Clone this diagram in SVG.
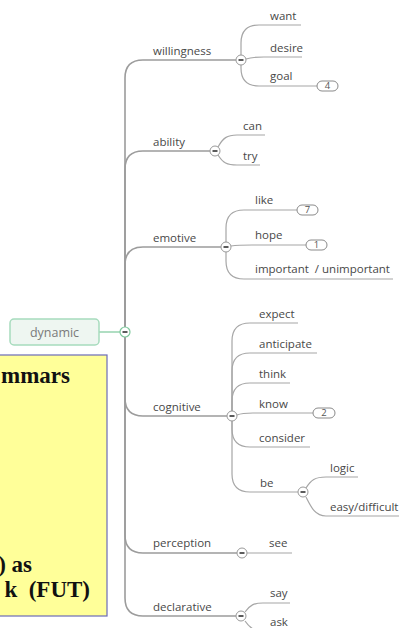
<svg xmlns="http://www.w3.org/2000/svg" width="399" height="628" viewBox="0 0 399 628">
<style>
.t{font-family:"Open Sans","DejaVu Sans",sans-serif;font-size:11.5px;fill:#484848}
.main{fill:none;stroke:#9c9c9c;stroke-width:1.6}
.sub{fill:none;stroke:#a6a6a6;stroke-width:1.2}
.col{fill:#fff;stroke:#999;stroke-width:1}
.minus{stroke:#333;stroke-width:1.6}
.badge{fill:#fff;stroke:#8a8a8a;stroke-width:1}
.bt{font-family:"Open Sans","DejaVu Sans",sans-serif;font-size:9.5px;fill:#555;text-anchor:middle}
.note{font-family:"Liberation Serif","Times New Roman",serif;font-weight:bold;font-size:23px;fill:#111;text-anchor:end}
</style>
<defs>
<g id="mn"><circle r="5" class="col"/><line x1="-2.5" y1="0" x2="2.5" y2="0" class="minus"/></g>
</defs>
<rect width="399" height="628" fill="#fff"/>

<g id="connectors">
<line x1="99" y1="332" x2="120" y2="332" stroke="#8fd0aa" stroke-width="1.4"/>
<path class="main" d="M125,327 V78 Q125,60 143,60 H236"/>
<path class="main" d="M125,327 V169 Q125,151 143,151 H210"/>
<path class="main" d="M125,327 V265 Q125,247 143,247 H221"/>
<path class="main" d="M125,337 V398 Q125,416 143,416 H227"/>
<path class="main" d="M125,337 V535 Q125,553 143,553 H237"/>
<path class="main" d="M125,337 V598 Q125,616 143,616 H236"/>
<path class="sub" d="M241,55 V43 Q241,25 259,25 H301"/>
<path class="sub" d="M246,59 C252,57 256,57 264,57 H302"/>
<path class="sub" d="M241,65 V68 Q241,86 259,86 H317"/>
<path class="sub" d="M218,147 C223,138 227,135 237,135 H265"/>
<path class="sub" d="M218,155 C223,163 227,165 237,165 H260"/>
<path class="sub" d="M226,242 V228 Q226,210 244,210 H297"/>
<path class="sub" d="M231,246 C238,245 244,245 252,245 H306"/>
<path class="sub" d="M226,252 V261 Q226,279 244,279 H393"/>
<path class="sub" d="M232,411 V341 Q232,323 250,323 H298"/>
<path class="sub" d="M232,411 V371 Q232,353 250,353 H317"/>
<path class="sub" d="M232,411 V401 Q232,383 250,383 H290"/>
<path class="sub" d="M237,415 C242,413 246,413 253,413 H313"/>
<path class="sub" d="M232,421 V429 Q232,447 250,447 H310"/>
<path class="sub" d="M232,421 V474 Q232,492 250,492 H298"/>
<path class="sub" d="M306,488 C311,480 315,477 326,477 H358"/>
<path class="sub" d="M306,497 C311,507 315,516 326,516 H399"/>
<path class="sub" d="M247,553 H292"/>
<path class="sub" d="M245,612 C250,605 254,603 263,603 H290"/>
<path class="sub" d="M245,621 C250,628 254,631 263,631 H290"/>
</g>

<g id="note">
<rect x="-2" y="355" width="109" height="261" fill="#ffff99" stroke="#6b6bb8" stroke-width="1.2"/>
<text class="note" x="70" y="383">mmars</text>
<text class="note" x="32" y="572">) as</text>
<text class="note" x="90" y="597">k&#160;&#160;(FUT)</text>
</g>

<g id="dynamic">
<rect x="10" y="319" width="89" height="26" rx="4" fill="#eef6f1" stroke="#a6dbbd" stroke-width="1.5"/>
<text x="54.5" y="336.5" text-anchor="middle" style="font-family:'Open Sans','DejaVu Sans',sans-serif;font-size:12.5px;fill:#7a7a7a">dynamic</text>
<circle cx="125" cy="332" r="5" fill="#fff" stroke="#7fc99d" stroke-width="1.2"/>
<line x1="122.5" y1="332" x2="127.5" y2="332" class="minus"/>
</g>

<g id="willingness"><text class="t" x="153" y="55">willingness</text><use href="#mn" x="241" y="60"/></g>
<g id="want"><text class="t" x="270" y="20">want</text></g>
<g id="desire"><text class="t" x="270" y="52">desire</text></g>
<g id="goal"><text class="t" x="270" y="80">goal</text><rect class="badge" x="317" y="81" width="21" height="10" rx="5"/><text class="bt" x="327.5" y="89.3">4</text></g>

<g id="ability"><text class="t" x="153" y="146">ability</text><use href="#mn" x="215" y="151"/></g>
<g id="can"><text class="t" x="243" y="130">can</text></g>
<g id="try"><text class="t" x="243" y="160">try</text></g>

<g id="emotive"><text class="t" x="153" y="242">emotive</text><use href="#mn" x="226" y="247"/></g>
<g id="like"><text class="t" x="255" y="204">like</text><rect class="badge" x="297" y="205" width="21" height="10" rx="5"/><text class="bt" x="307.5" y="213.3">7</text></g>
<g id="hope"><text class="t" x="255" y="239">hope</text><rect class="badge" x="306" y="240" width="21" height="10" rx="5"/><text class="bt" x="316.5" y="248.3">1</text></g>
<g id="important"><text class="t" x="255" y="273">important&#160;&#160;/ unimportant</text></g>

<g id="cognitive"><text class="t" x="153" y="411">cognitive</text><use href="#mn" x="232" y="416"/></g>
<g id="expect"><text class="t" x="259" y="318">expect</text></g>
<g id="anticipate"><text class="t" x="259" y="348">anticipate</text></g>
<g id="think"><text class="t" x="259" y="378">think</text></g>
<g id="know"><text class="t" x="259" y="408">know</text><rect class="badge" x="313" y="408" width="22" height="10" rx="5"/><text class="bt" x="324" y="416.3">2</text></g>
<g id="consider"><text class="t" x="259" y="442">consider</text></g>
<g id="be"><text class="t" x="260" y="487">be</text><use href="#mn" x="303" y="492"/></g>
<g id="logic"><text class="t" x="330" y="472">logic</text></g>
<g id="easy"><text class="t" x="330" y="511">easy/difficult</text></g>

<g id="perception"><text class="t" x="153" y="547">perception</text><use href="#mn" x="242" y="553"/></g>
<g id="see"><text class="t" x="269" y="547">see</text></g>

<g id="declarative"><text class="t" x="153" y="611">declarative</text><use href="#mn" x="241" y="616"/></g>
<g id="say"><text class="t" x="270" y="597">say</text></g>
<g id="ask"><text class="t" x="270" y="626">ask</text></g>
</svg>
